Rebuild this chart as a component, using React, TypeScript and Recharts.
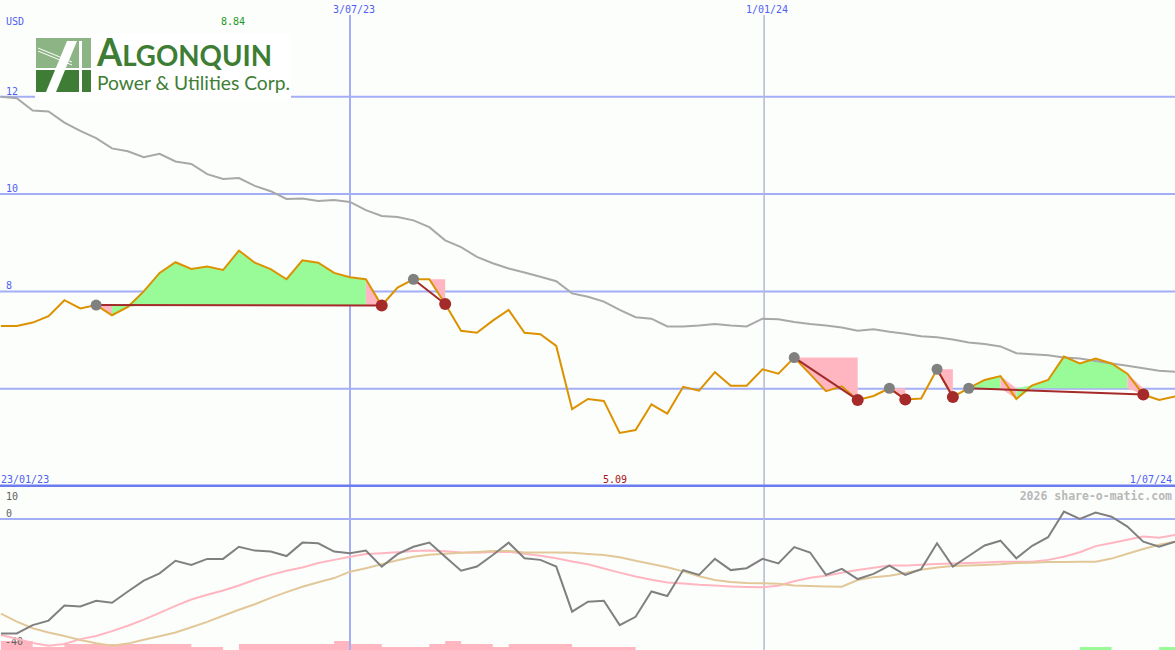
import { Area, ComposedChart, Line, ReferenceLine, Scatter, XAxis, YAxis } from "recharts";

// weekly closes, 30/01/23 .. 1/07/24 (index = week number)
const price = [
  7.29, 7.29, 7.36, 7.49, 7.82, 7.65, 7.72, 7.51, 7.68, 8.0,
  8.38, 8.6, 8.46, 8.51, 8.44, 8.84, 8.59, 8.46, 8.25, 8.64,
  8.59, 8.38, 8.29, 8.25, 7.71, 8.08, 8.25, 8.25, 7.74, 7.19,
  7.15, 7.4, 7.62, 7.15, 7.12, 6.88, 5.58, 5.79, 5.75, 5.09,
  5.15, 5.68, 5.49, 6.04, 5.96, 6.34, 6.06, 6.06, 6.4, 6.31,
  6.64, 6.3, 5.95, 6.05, 5.77, 5.85, 6.01, 5.78, 5.8, 6.4,
  5.83, 6.01, 6.18, 6.26, 5.79, 6.07, 6.18, 6.66, 6.52, 6.62,
  6.52, 6.31, 5.88, 5.77, 5.84,
];

// long moving average
const avg40 = [
  12.0, 11.97, 11.72, 11.7, 11.47, 11.3, 11.15, 10.94, 10.88, 10.76,
  10.83, 10.67, 10.62, 10.41, 10.31, 10.33, 10.17, 10.06, 9.9, 9.91,
  9.86, 9.88, 9.84, 9.67, 9.55, 9.53, 9.46, 9.32, 9.05, 8.91,
  8.71, 8.58, 8.47, 8.39, 8.3, 8.21, 7.96, 7.89, 7.79, 7.62,
  7.47, 7.44, 7.28, 7.28, 7.3, 7.33, 7.3, 7.28, 7.44, 7.43,
  7.37, 7.33, 7.3, 7.26, 7.19, 7.22, 7.17, 7.13, 7.08, 7.06,
  7.01, 6.95, 6.92, 6.87, 6.73, 6.71, 6.69, 6.64, 6.62, 6.57,
  6.52, 6.47, 6.42, 6.37, 6.35,
];

// lower panel oscillator + its two averages
const osc = [
  -35.8, -35.8, -33.2, -31.8, -27.1, -27.4, -25.6, -26.2, -22.7, -19.3,
  -17.0, -13.1, -14.4, -12.5, -12.5, -8.7, -9.9, -10.2, -11.6, -7.4,
  -7.6, -10.2, -10.7, -9.9, -14.9, -11.0, -8.7, -7.4, -11.8, -16.2,
  -14.9, -11.3, -7.4, -12.3, -12.8, -14.9, -29.0, -25.9, -25.6, -33.2,
  -30.6, -22.7, -24.1, -16.0, -17.5, -12.5, -16.0, -15.4, -12.5, -13.9,
  -8.8, -10.5, -17.5, -15.6, -18.8, -17.2, -14.6, -17.5, -15.7, -7.6,
  -14.9, -11.6, -8.3, -6.8, -12.3, -8.4, -5.7, 2.3, 0.0, 2.0,
  0.7, -2.4, -7.1, -8.7, -7.1,
];
const oscFast = [
  -36.3, -37.5, -38.8, -39.7, -39.1, -37.6, -36.6, -35.1, -33.4, -31.5,
  -29.4, -27.2, -25.2, -23.7, -22.4, -20.8, -19.0, -17.5, -16.2, -15.2,
  -13.8, -12.8, -11.8, -11.0, -10.7, -10.4, -10.0, -9.9, -10.1, -10.5,
  -10.6, -10.3, -10.3, -10.9, -11.5, -12.3, -13.3, -14.2, -15.5, -16.8,
  -18.0, -19.0, -19.9, -20.2, -20.6, -20.8, -21.1, -21.3, -21.4, -20.9,
  -19.5, -18.4, -17.8, -16.8, -16.0, -15.3, -14.6, -14.6, -14.3, -14.1,
  -13.9, -13.8, -13.6, -13.4, -13.4, -13.4, -12.8, -11.8, -10.4, -8.5,
  -7.5, -6.5, -5.5, -5.9, -5.0,
];
const oscSlow = [
  -29.6, -32.1, -34.2, -35.5, -36.6, -37.9, -38.9, -39.7, -39.0, -37.8,
  -36.7, -35.5, -33.9, -32.2, -30.3, -28.4, -26.7, -24.7, -22.9, -21.2,
  -19.8, -18.5, -16.5, -15.4, -14.2, -12.9, -11.8, -11.2, -10.9, -10.6,
  -10.3, -10.0, -10.0, -10.5, -10.5, -10.5, -10.6, -11.0, -11.3, -12.0,
  -13.1, -14.1, -15.1, -16.4, -17.9, -19.1, -19.7, -20.0, -20.1, -20.3,
  -20.8, -21.0, -21.1, -21.2, -19.1, -18.2, -17.8, -16.9, -15.9, -15.2,
  -14.7, -14.6, -14.4, -14.2, -13.8, -13.7, -13.5, -13.5, -13.4, -13.4,
  -12.4, -10.9, -9.4, -8.1, -7.1,
];

// strength strips along the bottom (0 = none)
const sellBars = [
  3, 3, 1, 1, 2, 2, 2, 2, 2, 2, 2, 2, 1, 1, 0, 2, 2, 2, 2, 2,
  2, 3, 2, 2, 1, 1, 1, 2, 3, 2, 2, 1, 2, 2, 2, 2, 1, 1, 1, 1,
  0, 0, 0, 0, 0, 0, 0, 0, 0, 0, 0, 0, 0, 0, 0, 0, 0, 0, 0, 0,
  0, 0, 0, 0, 0, 0, 0, 0, 0, 0, 0, 0, 0, 0, 0,
];
const buyBars = [
  0, 0, 0, 0, 0, 0, 0, 0, 0, 0, 0, 0, 0, 0, 0, 0, 0, 0, 0, 0,
  0, 0, 0, 0, 0, 0, 0, 0, 0, 0, 0, 0, 0, 0, 0, 0, 0, 0, 0, 0,
  0, 0, 0, 0, 0, 0, 0, 0, 0, 0, 0, 0, 0, 0, 0, 0, 0, 0, 0, 0,
  0, 0, 0, 0, 0, 0, 0, 0, 1, 1, 0, 0, 0, 1, 1,
];

// signal runs: grey dot at start week, red dot at end week
const signalStart = [6, 26, 50, 56, 59, 61];
const signalEnd = [24, 28, 54, 57, 60, 72];
const greenSpans = [[7, 23], [61, 63], [64, 71]];
const pinkSpans = [[6, 7], [23, 24], [26, 28], [50, 54], [56, 57], [59, 60], [63, 64], [71, 72]];

const priceTicks = [12, 10, 8, 6];
const priceTickLabels = ["12", "10", "8", ""];
const dateMarks = [22, 48.1];
const dateLabels = ["3/07/23", "1/01/24"];

const W = 1175;
const TOP_H = 487;
const BOT_H = 163;
const X_DOMAIN: [number, number] = [-0.06, 74];
const TOP_DOMAIN: [number, number] = [3.98, 13.99];
const BOT_DOMAIN: [number, number] = [-41, 10];

const BG = "#fcfefc";
const GRID = "#a4aef6";
const LABEL = "#4f5ff2";
const FONT = "DejaVu Sans Mono, monospace";

const mainRows = price.map((p, k) => ({ k, price: p, avg: avg40[k] }));
const oscRows = osc.map((v, k) => ({
  k,
  osc: v,
  fast: oscFast[k],
  slow: oscSlow[k],
  sell: sellBars[k],
  buy: buyBars[k],
}));

function levelAt(week: number) {
  const i = signalStart.findIndex((s, j) => s <= week && week < signalEnd[j]);
  return price[signalStart[i]];
}

function band(span: number[]) {
  const lvl = levelAt(span[0]);
  const out = [];
  for (let k = span[0]; k <= span[1]; k++) {
    out.push({ k, band: [Math.min(lvl, price[k]), Math.max(lvl, price[k])] });
  }
  return out;
}

function tickLabel(text: string, color: string, dy: number, dx = 6) {
  return (props: any) => {
    const vb = props.viewBox || {};
    return (
      <text x={(vb.x ?? 0) + dx} y={(vb.y ?? 0) + dy} fill={color} fontSize={10} fontFamily={FONT}>
        {text}
      </text>
    );
  };
}

function Dot(color: string, r: number) {
  return (p: any) => <circle cx={p.cx} cy={p.cy} r={r} fill={color} />;
}

function Logo() {
  return (
    <g>
      <rect x={35} y={34} width={256} height={65} fill="#ffffff" />
      <rect x={36} y={38} width={55} height={30} fill="#8cb484" />
      <rect x={36} y={70} width={55} height={22} fill="#3f7d36" />
      <line x1={38} y1={48} x2={72} y2={62} stroke="#ffffff" strokeWidth={1} />
      <line x1={38} y1={51} x2={72} y2={65} stroke="#ffffff" strokeWidth={1} />
      <polygon points="46,92 56,92 77,41 67,41" fill="#ffffff" />
      <rect x={79} y={41} width={3} height={51} fill="#ffffff" />
      <text
        x={97}
        y={66}
        fill="#3e7d34"
        fontFamily="Lato, sans-serif"
        fontWeight={700}
        fontSize={38}
        textLength={175}
        lengthAdjust="spacingAndGlyphs"
      >
        A<tspan fontSize={29}>LGONQUIN</tspan>
      </text>
      <text
        x={97}
        y={90}
        fill="#3e7d34"
        fontFamily="Lato, sans-serif"
        fontSize={19}
        textLength={193}
        lengthAdjust="spacingAndGlyphs"
      >
        Power &amp; Utilities Corp.
      </text>
    </g>
  );
}

export default function App() {
  return (
    <div style={{ position: "absolute", left: 0, top: 0, width: W, height: 650, background: BG, overflow: "hidden" }}>
      <div style={{ position: "absolute", left: 0, top: 0 }}>
        <ComposedChart width={W} height={TOP_H} data={mainRows} margin={{ top: 0, right: 0, bottom: 0, left: 0 }}>
          <XAxis type="number" dataKey="k" domain={X_DOMAIN} hide allowDataOverflow />
          <YAxis type="number" domain={TOP_DOMAIN} hide allowDataOverflow />
          {priceTicks.map((t, i) => (
            <ReferenceLine
              key={"p" + t}
              y={t}
              stroke={GRID}
              strokeWidth={2}
              zIndex={-50}
              label={tickLabel(priceTickLabels[i], LABEL, -2)}
            />
          ))}
          {dateMarks.map((d, i) => (
            <ReferenceLine
              key={"d" + d}
              segment={[{ x: d, y: 13.68 }, { x: d, y: 3.98 }]}
              stroke={i === 0 ? GRID : "#b4b9d2"}
              strokeWidth={i === 0 ? 2 : 1.5}
              zIndex={-50}
            />
          ))}
          <ReferenceLine y={4} stroke="#6c7cf0" strokeWidth={3} />
          {greenSpans.map((s) => (
            <Area
              key={"g" + s[0]}
              data={band(s)}
              dataKey="band"
              type="linear"
              fill="#98fb98"
              fillOpacity={1}
              stroke="none"
              activeDot={false}
              isAnimationActive={false}
            />
          ))}
          {pinkSpans.map((s) => (
            <Area
              key={"r" + s[0]}
              data={band(s)}
              dataKey="band"
              type="linear"
              fill="#ffb6c1"
              fillOpacity={1}
              stroke="none"
              activeDot={false}
              isAnimationActive={false}
            />
          ))}
          <Line dataKey="avg" type="linear" stroke="#a8a8a8" strokeWidth={2} dot={false} activeDot={false} isAnimationActive={false} />
          <Line dataKey="price" type="linear" stroke="#dc9200" strokeWidth={2} dot={false} activeDot={false} isAnimationActive={false} />
          {signalStart.map((s, i) => (
            <Line
              key={"t" + s}
              data={[
                { k: s, trend: price[s] },
                { k: signalEnd[i], trend: price[signalEnd[i]] },
              ]}
              dataKey="trend"
              type="linear"
              stroke="#a52a2a"
              strokeWidth={2}
              dot={false}
              activeDot={false}
              isAnimationActive={false}
            />
          ))}
          <Scatter
            data={signalStart.map((k) => ({ k, start: price[k] }))}
            dataKey="start"
            shape={Dot("#808080", 5.5)}
            isAnimationActive={false}
          />
          <Scatter
            data={signalEnd.map((k) => ({ k, end: price[k] }))}
            dataKey="end"
            shape={Dot("#a52a2a", 6)}
            isAnimationActive={false}
          />
        </ComposedChart>
      </div>

      <div style={{ position: "absolute", left: 0, top: TOP_H }}>
        <ComposedChart width={W} height={BOT_H} data={oscRows} margin={{ top: 0, right: 0, bottom: 0, left: 0 }}>
          <XAxis type="number" dataKey="k" domain={X_DOMAIN} hide allowDataOverflow />
          <YAxis yAxisId="osc" type="number" domain={BOT_DOMAIN} hide allowDataOverflow />
          <YAxis yAxisId="bars" type="number" domain={[0, 54]} hide allowDataOverflow />
          <ReferenceLine yAxisId="osc" y={0} stroke={GRID} strokeWidth={2} label={tickLabel("0", "#606060", -2)} />
          <ReferenceLine yAxisId="osc" y={10} stroke="none" label={tickLabel("10", "#606060", 13)} />
          <ReferenceLine yAxisId="osc" y={-40} stroke="none" label={tickLabel("-40", "#606060", -2, 5)} />
          {dateMarks.map((d, i) => (
            <ReferenceLine
              key={"bd" + d}
              yAxisId="osc"
              x={d}
              stroke={i === 0 ? GRID : "#b4b9d2"}
              strokeWidth={i === 0 ? 2 : 1.5}
            />
          ))}
          <Area
            yAxisId="bars"
            dataKey="sell"
            type="stepAfter"
            fill="#ffb6c1"
            fillOpacity={1}
            stroke="none"
            activeDot={false}
            isAnimationActive={false}
          />
          <Area
            yAxisId="bars"
            dataKey="buy"
            type="stepAfter"
            fill="#98fb98"
            fillOpacity={1}
            stroke="none"
            activeDot={false}
            isAnimationActive={false}
          />
          <Line yAxisId="osc" dataKey="fast" type="linear" stroke="#ffb6c1" strokeWidth={2} dot={false} activeDot={false} isAnimationActive={false} />
          <Line yAxisId="osc" dataKey="slow" type="linear" stroke="#e2c898" strokeWidth={2} dot={false} activeDot={false} isAnimationActive={false} />
          <Line yAxisId="osc" dataKey="osc" type="linear" stroke="#808080" strokeWidth={2} dot={false} activeDot={false} isAnimationActive={false} />
        </ComposedChart>
      </div>

      <svg width={W} height={650} style={{ position: "absolute", left: 0, top: 0, pointerEvents: "none" }}>
        <Logo />
        <g fontFamily={FONT} fontSize={10}>
          <text x={6} y={25} fill={LABEL}>USD</text>
          <text x={221} y={25} fill="#229922">8.84</text>
          <text x={333} y={13} fill={LABEL}>{dateLabels[0]}</text>
          <text x={746} y={13} fill={LABEL}>{dateLabels[1]}</text>
          <text x={1} y={483} fill={LABEL}>23/01/23</text>
          <text x={603} y={483} fill="#aa1111">5.09</text>
          <text x={1172} y={483} fill={LABEL} textAnchor="end">1/07/24</text>
          <text x={1172} y={500} fill="#b8b8b8" fontSize={11.5} fontWeight={700} textAnchor="end">
            2026 share-o-matic.com
          </text>
        </g>
      </svg>
    </div>
  );
}
